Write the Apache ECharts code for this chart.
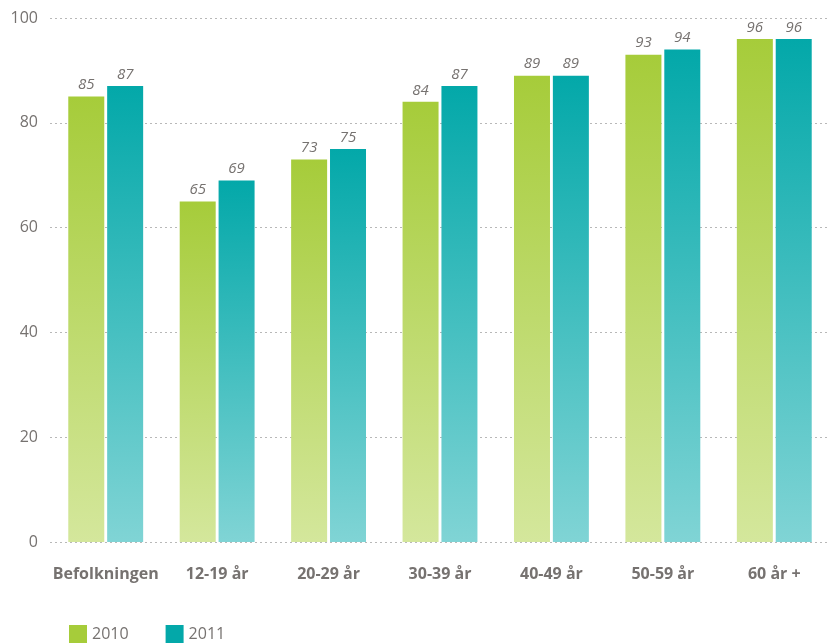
<!DOCTYPE html>
<html>
<head>
<meta charset="utf-8">
<script src="https://cdn.jsdelivr.net/npm/echarts@6/dist/echarts.min.js"></script>
<style>
  html, body { margin: 0; padding: 0; background: #fff; }
  #chart { width: 830px; height: 644px; }
</style>
</head>
<body>
<div id="chart"></div>
<script>
const categories = ['Befolkningen', '12-19 år', '20-29 år', '30-39 år', '40-49 år', '50-59 år', '60 år +']
const values2010 = [85, 65, 73, 84, 89, 93, 96]
const values2011 = [87, 69, 75, 87, 89, 94, 96]
const yTicks = [0, 20, 40, 60, 80, 100]

const fontFamily = '"Open Sans", Lato, sans-serif'
const textColor = '#767270'
const green = '#a6cc3a'
const teal = '#03a8a9'

const gradient = (top, bottom) => new echarts.graphic.LinearGradient(0, 0, 0, 1, [
  { offset: 0, color: top },
  { offset: 1, color: bottom }
])

const valueLabel = {
  show: true,
  position: 'top',
  distance: 4,
  color: textColor,
  fontStyle: 'italic',
  fontSize: 15,
  fontFamily: fontFamily
}

const chart = echarts.init(document.getElementById('chart'))
chart.setOption({
  animation: false,
  backgroundColor: '#fff',
  grid: { left: 50, right: -4, top: 18, bottom: 102 },
  legend: {
    left: 64,
    top: 620,
    itemWidth: 18,
    itemHeight: 18,
    itemGap: 37,
    icon: 'rect',
    textStyle: { color: textColor, fontSize: 16, fontFamily: fontFamily },
    data: [
      { name: '2010', itemStyle: { color: green } },
      { name: '2011', itemStyle: { color: teal } }
    ]
  },
  xAxis: {
    type: 'category',
    data: categories,
    axisLine: { show: false },
    axisTick: { show: false },
    axisLabel: {
      interval: 0,
      color: textColor,
      fontWeight: 'bold',
      fontSize: 16,
      fontFamily: fontFamily,
      margin: 24
    }
  },
  yAxis: {
    type: 'value',
    min: yTicks[0],
    max: yTicks[yTicks.length - 1],
    interval: 20,
    axisLine: { show: false },
    axisTick: { show: false },
    axisLabel: {
      color: textColor,
      fontSize: 16,
      fontFamily: fontFamily,
      margin: 12
    },
    splitLine: {
      lineStyle: { color: '#b8b8b8', type: [2, 3], width: 1 }
    }
  },
  series: [
    {
      name: '2010',
      type: 'bar',
      data: values2010,
      barWidth: 36,
      barGap: '8%',
      itemStyle: { color: gradient(green, '#d4e79c') },
      label: valueLabel
    },
    {
      name: '2011',
      type: 'bar',
      data: values2011,
      barWidth: 36,
      itemStyle: { color: gradient(teal, '#80d4d5') },
      label: valueLabel
    }
  ]
})
</script>
</body>
</html>
